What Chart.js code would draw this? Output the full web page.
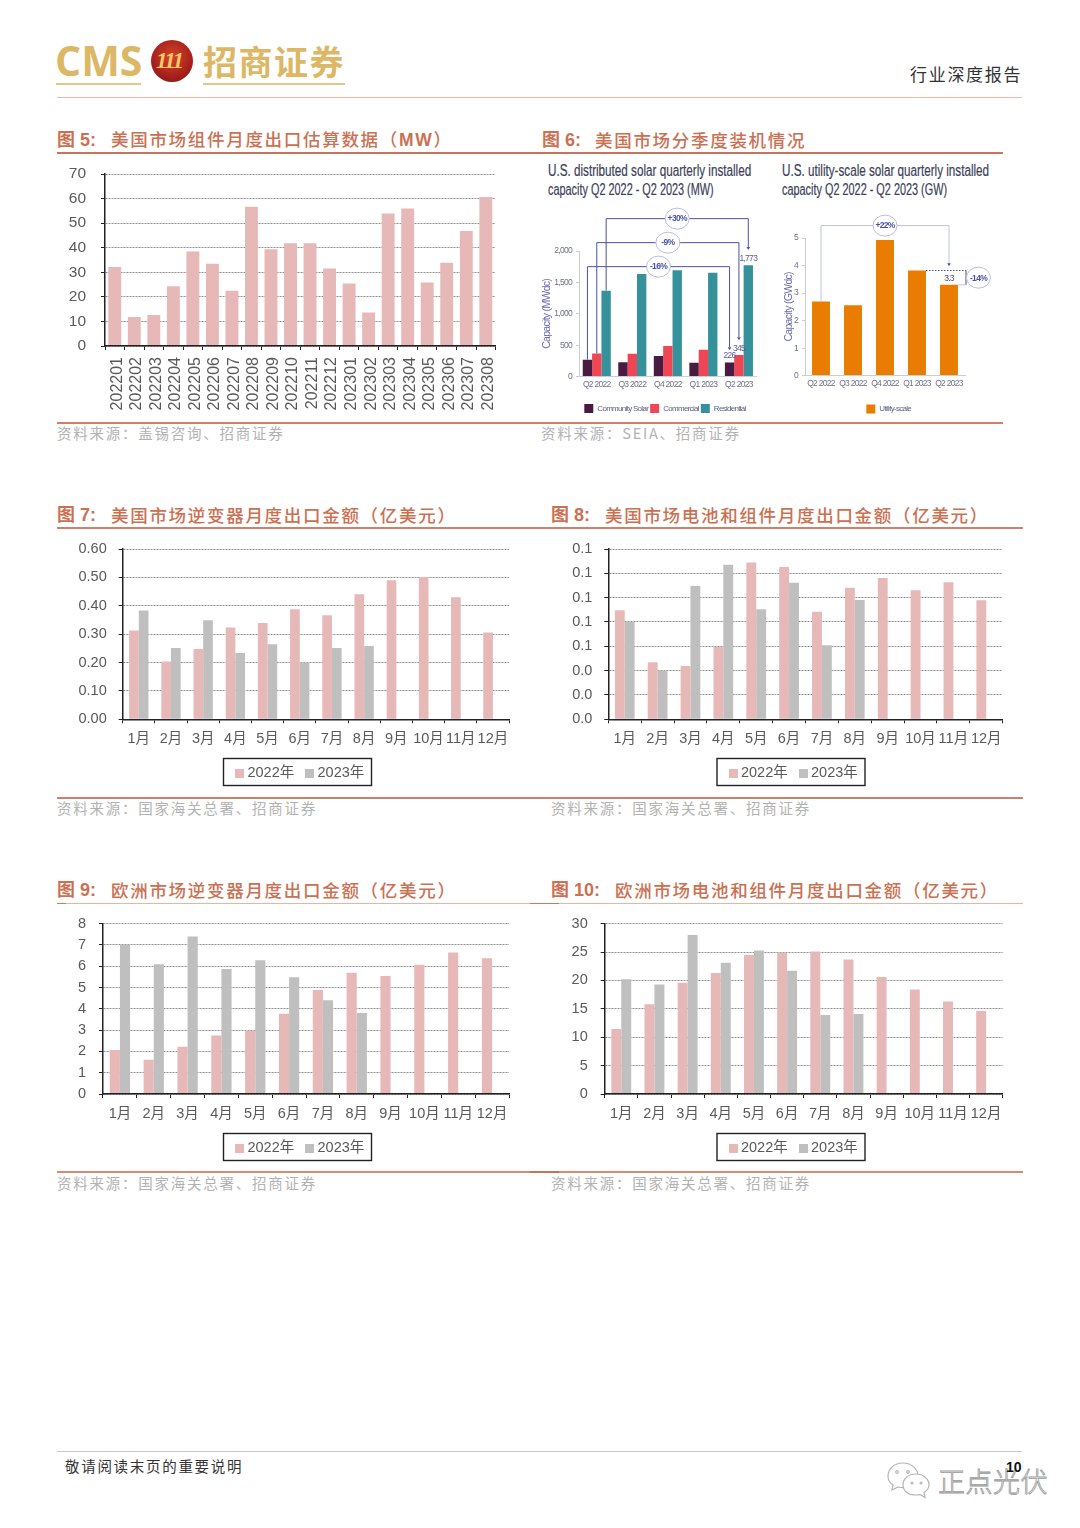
<!DOCTYPE html>
<html lang="zh-CN">
<head>
<meta charset="utf-8">
<script src="https://cdn.jsdelivr.net/npm/chart.js@4"></script>
<style>
html,body{margin:0;padding:0;background:#fff;}
#page{position:relative;width:1080px;height:1528px;overflow:hidden;background:#fff;font-family:"Liberation Sans","Noto Sans CJK SC",sans-serif;}
.t{position:absolute;white-space:nowrap;transform:translateY(-50%);line-height:1;}
.r{position:absolute;}
.fig{color:#cc7052;font-size:17.5px;font-weight:500;letter-spacing:1.7px;font-family:"Noto Sans CJK SC",sans-serif;}
.num{color:#cc7052;font-size:18px;font-weight:700;font-family:"Liberation Sans","Noto Sans CJK SC",sans-serif;}
.src{color:#b2b2b2;font-size:14.5px;letter-spacing:1.75px;font-family:"Noto Sans CJK SC",sans-serif;}
.en{color:#3c4158;font-size:16px;font-family:"Liberation Sans",sans-serif;transform-origin:left center;-webkit-text-stroke:.2px #3c4158;}
canvas{position:absolute;display:block;}
</style>
</head>
<body>
<div id="page">
  <!-- header -->
  <div class="t" style="left:55px;top:60px;font:700 41px 'Open Sans',sans-serif;color:#dcb866;">CMS</div>
  <div class="r" style="left:56px;top:83px;width:85px;height:2px;background:#e3c783;"></div>
  <div class="r" style="left:151px;top:40px;width:42px;height:42px;border-radius:50%;background:radial-gradient(circle at 50% 40%,#d2452a 0,#a8201c 60%,#6d1512 100%);"></div>
  <div class="t" style="left:156px;top:61px;font:italic 700 23px 'Liberation Serif',serif;color:#f3c867;letter-spacing:-2px;">111</div>
  <div class="t" style="left:203px;top:60px;font:700 34px 'Noto Sans CJK SC',sans-serif;color:#dcb866;letter-spacing:1.5px;">招商证券</div>
  <div class="r" style="left:203px;top:83px;width:142px;height:2px;background:#e3c783;"></div>
  <div class="t" style="left:910px;top:72.500px;font:400 17px 'Noto Sans CJK SC',sans-serif;color:#333;letter-spacing:1.7px;">行业深度报告</div>
  <div class="r" style="left:57px;top:96.5px;width:965px;height:1px;background:#f0b9a8;"></div>

  <!-- figure titles -->
  <div class="t num" style="left:57px;top:140px;">图 5:</div>
  <div class="t fig" style="left:111px;top:140px;">美国市场组件月度出口估算数据（<b style="font-family:'Liberation Sans'">MW</b>）</div>
  <div class="t num" style="left:542px;top:140px;">图 6:</div>
  <div class="t fig" style="left:595px;top:140px;">美国市场分季度装机情况</div>
  <div class="t num" style="left:57px;top:515px;">图 7:</div>
  <div class="t fig" style="left:111px;top:515px;">美国市场逆变器月度出口金额（亿美元）</div>
  <div class="t num" style="left:551px;top:515px;">图 8:</div>
  <div class="t fig" style="left:605px;top:515px;">美国市场电池和组件月度出口金额（亿美元）</div>
  <div class="t num" style="left:57px;top:890px;">图 9:</div>
  <div class="t fig" style="left:111px;top:890px;">欧洲市场逆变器月度出口金额（亿美元）</div>
  <div class="t num" style="left:551px;top:890px;">图 10:</div>
  <div class="t fig" style="left:615px;top:890px;">欧洲市场电池和组件月度出口金额（亿美元）</div>

  <!-- rules -->
  <div class="r" style="left:57px;top:152px;width:946px;height:2px;background:#c9745a;"></div>
  <div class="r" style="left:57px;top:422px;width:946px;height:1.5px;background:#cf8068;"></div>
  <div class="r" style="left:57px;top:527px;width:966px;height:1.5px;background:#cf8068;"></div>
  <div class="r" style="left:57px;top:797px;width:966px;height:1.5px;background:#cf8068;"></div>
  <div class="r" style="left:57px;top:902.5px;width:966px;height:1.5px;background:#e9b4a2;"></div>
  <div class="r" style="left:57px;top:902.5px;width:9px;height:1.5px;background:#cf7a60;"></div>
  <div class="r" style="left:530px;top:902.5px;width:29px;height:1.5px;background:#cf7a60;"></div>
  <div class="r" style="left:57px;top:1171px;width:966px;height:1.5px;background:#d68a72;"></div>
  <div class="r" style="left:530px;top:1171px;width:29px;height:1.5px;background:#c9745a;"></div>

  <!-- sources -->
  <div class="t src" style="left:57px;top:433px;">资料来源：盖锡咨询、招商证券</div>
  <div class="t src" style="left:541px;top:433px;">资料来源：SEIA、招商证券</div>
  <div class="t src" style="left:57px;top:808px;">资料来源：国家海关总署、招商证券</div>
  <div class="t src" style="left:551px;top:808px;">资料来源：国家海关总署、招商证券</div>
  <div class="t src" style="left:57px;top:1183px;">资料来源：国家海关总署、招商证券</div>
  <div class="t src" style="left:551px;top:1183px;">资料来源：国家海关总署、招商证券</div>

  <!-- figure 6 sub titles -->
  <div class="t en" style="left:548px;top:171px;transform:translateY(-50%) scaleX(.73);">U.S. distributed solar quarterly installed</div>
  <div class="t en" style="left:548px;top:190px;transform:translateY(-50%) scaleX(.68);">capacity Q2 2022 - Q2 2023 (MW)</div>
  <div class="t en" style="left:782px;top:171px;transform:translateY(-50%) scaleX(.73);">U.S. utility-scale solar quarterly installed</div>
  <div class="t en" style="left:782px;top:190px;transform:translateY(-50%) scaleX(.68);">capacity Q2 2022 - Q2 2023 (GW)</div>

  <!-- footer -->
  <div class="r" style="left:57px;top:1451px;width:965px;height:1px;background:#c8c8c8;"></div>
  <div class="t" style="left:65px;top:1465px;font:400 14.5px 'Noto Sans CJK SC',sans-serif;color:#333;letter-spacing:1.7px;">敬请阅读末页的重要说明</div>
  <svg class="r" style="left:886px;top:1460px;" width="48" height="40" viewBox="0 0 48 40" fill="#fff" stroke="#b5b5b5" stroke-width="1.2">
    <path d="M17 3C8 3 2 9 2 16c0 4 2 7 5 9l-1 5 6-3c2 .6 3 .7 5 .7 9 0 15-6 15-12S26 3 17 3z"/>
    <path d="M30 14c-8 0-13 5-13 11s5 10 13 10c1.700 0 3-.2 4-.5l5 3-1-5c3-2 5-4.500 5-7.500 0-6-6-11-13-11z"/>
    <circle cx="11" cy="12" r="1.300"/><circle cx="22" cy="12" r="1.300"/><circle cx="26" cy="23" r="1"/><circle cx="35" cy="23" r="1"/>
  </svg>
  <div class="t" style="left:938px;top:1480px;font:300 27px 'Noto Sans CJK SC',sans-serif;color:#fff;-webkit-text-stroke:.8px #999;letter-spacing:.5px;">正点光伏</div>
  <div class="t" style="left:1006px;top:1467px;font:700 14px 'Liberation Sans',sans-serif;color:#111;">10</div>
</div>

<script>
/* ---------- data ---------- */
const months = ['1月','2月','3月','4月','5月','6月','7月','8月','9月','10月','11月','12月'];
const yearNames = ['2022年','2023年'];

const fig5Labels = ['202201','202202','202203','202204','202205','202206','202207','202208','202209','202210','202211','202212','202301','202302','202303','202304','202305','202306','202307','202308'];
const fig5Values = [32.2,11.8,12.6,24.3,38.5,33.5,22.5,56.7,39.4,41.8,41.8,31.5,25.4,13.6,53.9,56.0,25.8,33.9,46.8,60.6];

const quarters = ['Q2 2022','Q3 2022','Q4 2022','Q1 2023','Q2 2023'];
const community = [270,228,329,223,226];
const commercial = [371,366,488,430,345];
const residential = [1369,1634,1692,1655,1773];
const utility = [2.69,2.56,4.93,3.82,3.3];

const fig7y22 = [0.313,0.204,0.248,0.323,0.339,0.388,0.367,0.441,0.490,0.501,0.430,0.306];
const fig7y23 = [0.383,0.251,0.349,0.234,0.264,0.200,0.251,0.258];
const fig8y22 = [0.0896,0.0468,0.0438,0.0595,0.1288,0.1252,0.0885,0.1082,0.1162,0.1060,0.1126,0.0978];
const fig8y23 = [0.0800,0.0400,0.1096,0.1271,0.0904,0.1123,0.0608,0.0981];
const fig9y22 = [2.07,1.61,2.22,2.75,2.97,3.77,4.88,5.70,5.54,6.07,6.65,6.38];
const fig9y23 = [7.01,6.10,7.40,5.87,6.28,5.49,4.40,3.80];
const fig10y22 = [11.45,15.8,19.6,21.3,24.5,24.9,25.1,23.7,20.6,18.4,16.3,14.6];
const fig10y23 = [20.2,19.3,28.0,23.1,25.3,21.7,13.9,14.1];

/* bracket levels read in axis units */
const distBrackets = [
  {series:2, level:2515, arrowTo:2016, label:'+30%'},
  {series:1, level:2133, arrowTo:580,  label:'-9%'},
  {series:0, level:1751, arrowTo:420,  label:'-16%'}
];
const distNotes = [{series:0,text:'226'},{series:1,text:'345'},{series:2,text:'1,773'}];
const utilBracket = {level:5.45, arrowTo:3.97, label:'+22%'};
const utilNote = {text:'3.3', change:'-14%'};

/* ---------- styles ---------- */
const PINK='#e6b8b7', GREY='#bfbfbf', TXT='#595959';
const SANS='"Liberation Sans","Noto Sans CJK SC",sans-serif';
const page=document.getElementById('page');

function swatch(col,s){
  const c=document.createElement('canvas');c.width=s;c.height=s;
  const k=c.getContext('2d');k.fillStyle=col;k.fillRect(0,0,s,s);return c;
}

function makeChart(g, cfg){
  const c=document.createElement('canvas');
  c.width=g.w; c.height=g.h;
  c.style.left=g.left+'px'; c.style.top=g.top+'px';
  page.appendChild(c);
  let yW=g.l-g.left, xAdj=0;
  const applySpacing=ch=>{ if(g.spacing!==undefined) ch.ctx.letterSpacing=g.spacing+'px'; };
  const plugins=[{
    id:'place',
    beforeLayout:applySpacing,
    beforeDraw:applySpacing,
    afterLayout(ch){
      const L=ch.legend;
      if(!g.legend||!L) return;
      const dx=(g.legend.cx+(g.legend.lx||0)-g.left)-(L.left+L.right)/2;
      const dy=(g.legend.cy+(g.legend.ly||0)-g.top)-(L.top+L.bottom)/2;
      L.left+=dx;L.right+=dx;L.top+=dy;L.bottom+=dy;
    },
    afterDraw(ch){
      if(!g.legend||!g.legend.bw) return;
      const x=g.legend.cx-g.left-g.legend.bw/2, y=g.legend.cy-g.top-g.legend.bh/2;
      const k=ch.ctx;k.save();k.strokeStyle='#222';k.lineWidth=1.4;
      k.strokeRect(x,y,g.legend.bw,g.legend.bh);k.restore();
    }
  }].concat(cfg.plugins||[]);
  const st=cfg.style||{};
  const ch=new Chart(c,{
    type:'bar',
    data:{labels:cfg.labels,datasets:cfg.datasets},
    plugins,
    options:{
      responsive:false,animation:false,
      layout:{autoPadding:false,padding:{top:g.t-g.top,right:g.left+g.w-g.r,left:0,bottom:0}},
      plugins:{
        tooltip:{enabled:false},
        legend:cfg.legend?{display:true,position:'bottom',labels:cfg.legend}:{display:false}
      },
      scales:{
        x:{
          grid:{drawOnChartArea:false,drawTicks:true,tickLength:st.xTick??4,color:st.axis||'#222',tickColor:st.axis||'#222'},
          border:{color:st.axis||'#222',width:st.axisW||1.5,z:1},
          ticks:{color:st.color||TXT,font:{family:SANS,size:st.xSize||14.5},padding:st.xPad??7,labelOffset:st.xOffset||0,autoSkip:false,maxRotation:st.rot||0,minRotation:st.rot||0},
          afterFit(s){s.height=g.h-(s.chart.legend?s.chart.legend.height:0)-(g.b-g.top)+xAdj;}
        },
        y:{
          min:cfg.min,max:cfg.max,
          grid:st.noGrid?{drawOnChartArea:false,tickLength:3,color:st.axis,tickColor:st.axis}:{color:'#8f8f8f',lineWidth:1,tickLength:4,tickColor:'#222'},
          border:st.noGrid?{color:st.axis,width:1,z:1}:{color:'#222',width:1.5,dash:[2,1],z:1},
          title:st.yTitle?{display:true,text:st.yTitle,color:'#6a6eb0',font:{family:SANS,size:10.5},padding:{top:st.yTitlePad||0,bottom:0}}:{display:false},
          ticks:{stepSize:cfg.step,color:st.color||TXT,font:{family:SANS,size:st.ySize||14.5},padding:st.yPad??12,callback:cfg.fmt,autoSkip:false},
          afterFit(s){s.width=yW;}
        }
      }
    }
  });
  /* settle the plot rectangle on the wanted pixels */
  for(let i=0;i<5;i++){
    const y=ch.scales.y,x=ch.scales.x,pad=ch.options.layout.padding;
    const dt=y.getPixelForValue(cfg.max)-(g.t-g.top), db=y.getPixelForValue(cfg.min)-(g.b-g.top), dl=x.left-(g.l-g.left), dr=x.right-(g.r-g.left);
    if(Math.abs(dt)+Math.abs(db)+Math.abs(dl)+Math.abs(dr)<0.2) break;
    ch.options.layout.padding={top:pad.top-dt,right:pad.right+dr,left:0,bottom:0};
    xAdj+=db; yW-=dl;
    ch.update();
  }
  return ch;
}

function yearSets(a,b){
  return [
    {label:yearNames[0],data:a,backgroundColor:PINK,categoryPercentage:0.6,barPercentage:1},
    {label:yearNames[1],data:b,backgroundColor:GREY,categoryPercentage:0.6,barPercentage:1}
  ];
}
const yearSwatches=[swatch(PINK,9),swatch(GREY,9)];
const yearLegend={
  usePointStyle:true,pointStyleWidth:1,boxWidth:9,boxHeight:9,padding:15,color:TXT,font:{family:SANS,size:14.5},
  generateLabels(ch){
    return Chart.defaults.plugins.legend.labels.generateLabels(ch).map((it,i)=>Object.assign(it,{pointStyle:yearSwatches[i]}));
  }
};

/* ---------- figure 5 ---------- */
makeChart({left:56,top:144,w:456,h:276,l:105,r:500.5,t:174,b:346},{
  labels:fig5Labels,
  datasets:[{label:'MW',data:fig5Values,backgroundColor:PINK,categoryPercentage:0.66,barPercentage:1}],
  min:0,max:70,step:10,fmt:v=>String(v),
  style:{xSize:16,ySize:15.5,rot:90,xPad:7,yPad:15,xOffset:2.5}
});

/* ---------- figure 6 helpers ---------- */
function oval(k,x,y,text,col){
  k.save();
  k.beginPath();k.ellipse(x,y,12,10.5,0,0,Math.PI*2);
  k.fillStyle='#fff';k.fill();k.strokeStyle='#b9bde0';k.lineWidth=1;k.stroke();
  k.fillStyle=col;k.font='700 8.5px '+SANS;k.textAlign='center';k.textBaseline='middle';
  k.fillText(text,x,y+.5);k.restore();
}
function arrow(k,x,y,col){
  k.save();k.fillStyle=col;k.beginPath();k.moveTo(x-1.8,y-3);k.lineTo(x+1.8,y-3);k.lineTo(x,y);k.closePath();k.fill();k.restore();
}
const NAVY='#4a52a3';
const distPlugin={id:'distNotes',afterDatasetsDraw(ch){
  const k=ch.ctx,y=ch.scales.y;
  k.save();
  k.strokeStyle=NAVY;k.lineWidth=1;
  distBrackets.forEach(b=>{
    const bars=ch.getDatasetMeta(b.series).data;
    const a=bars[0],e=bars[bars.length-1],ly=y.getPixelForValue(b.level),ey=y.getPixelForValue(b.arrowTo);
    k.beginPath();k.moveTo(a.x,a.y);k.lineTo(a.x,ly);k.lineTo(e.x,ly);k.lineTo(e.x,ey-3);k.stroke();
    arrow(k,e.x,ey,NAVY);
  });
  distBrackets.forEach(b=>{
    const bars=ch.getDatasetMeta(b.series).data;
    oval(k,(bars[0].x+bars[bars.length-1].x)/2,y.getPixelForValue(b.level),b.label,NAVY);
  });
  k.fillStyle='#5b5f8f';k.font='8.5px '+SANS;k.textAlign='center';k.textBaseline='bottom';
  distNotes.forEach(n=>{
    const bars=ch.getDatasetMeta(n.series).data,e=bars[bars.length-1];
    k.fillText(n.text,e.x,e.y-2.5);
  });
  k.restore();
}};
const utilPlugin={id:'utilNotes',afterDatasetsDraw(ch){
  const k=ch.ctx,y=ch.scales.y,bars=ch.getDatasetMeta(0).data;
  const a=bars[0],e=bars[4],q=bars[3],ly=y.getPixelForValue(utilBracket.level),ey=y.getPixelForValue(utilBracket.arrowTo);
  const LINE='#bcc2dd',sideX=ch.chartArea.right+1;
  k.save();
  k.strokeStyle=LINE;k.lineWidth=1;
  k.beginPath();k.moveTo(a.x,a.y);k.lineTo(a.x,ly);k.lineTo(e.x,ly);k.lineTo(e.x,ey-3);k.stroke();
  arrow(k,e.x,ey,NAVY);
  k.strokeStyle='#444a7a';
  k.setLineDash([1.5,1.5]);k.beginPath();k.moveTo(q.x+q.width/2,q.y);k.lineTo(sideX,q.y);k.stroke();k.setLineDash([]);
  k.beginPath();k.moveTo(sideX,q.y);k.lineTo(sideX,e.y);k.stroke();
  k.beginPath();k.moveTo(e.x+e.width/2,e.y);k.lineTo(sideX,e.y);k.strokeStyle=LINE;k.stroke();
  oval(k,(a.x+e.x)/2,ly,utilBracket.label,NAVY);
  oval(k,sideX+12.5,(q.y+e.y)/2,utilNote.change,NAVY);
  k.fillStyle='#444a6a';k.font='8.5px '+SANS;k.textAlign='center';k.textBaseline='bottom';
  k.fillText(utilNote.text,e.x,e.y-2);
  k.restore();
}};
const smallStyle={color:'#6d6f8a',xSize:8.5,ySize:8.5,axis:'#c8cce0',axisW:1,xTick:0,xPad:3,yPad:4,noGrid:true};
const smallLegend={boxWidth:9,boxHeight:9,padding:2,color:'#5d5f7f',font:{family:SANS,size:8}};

/* ---------- figure 6 left ---------- */
makeChart({left:535,top:200,w:235,h:220,l:579,r:756.7,t:251,b:376.7,spacing:-0.7,legend:{cx:665,cy:407,ly:5.5}},{
  labels:quarters,
  datasets:[
    {label:'Community Solar',data:community,backgroundColor:'#4a1b40',categoryPercentage:0.79,barPercentage:1},
    {label:'Commercial',data:commercial,backgroundColor:'#ef4655',categoryPercentage:0.79,barPercentage:1},
    {label:'Residential',data:residential,backgroundColor:'#35919a',categoryPercentage:0.79,barPercentage:1}
  ],
  min:0,max:2000,step:500,fmt:v=>v.toLocaleString('en-US'),
  style:Object.assign({},smallStyle,{yTitle:'Capacity (MWdc)',yTitlePad:6}),
  legend:smallLegend,plugins:[distPlugin]
});

/* ---------- figure 6 right ---------- */
makeChart({left:775,top:200,w:225,h:220,l:805,r:965,t:238,b:375.7,spacing:-0.7,legend:{cx:888.7,cy:408,ly:5}},{
  labels:quarters,
  datasets:[{label:'Utility-scale',data:utility,backgroundColor:'#ea7d00',categoryPercentage:0.56,barPercentage:1}],
  min:0,max:5,step:1,fmt:v=>String(v),
  style:Object.assign({},smallStyle,{yTitle:'Capacity (GWdc)',yTitlePad:8}),
  legend:smallLegend,plugins:[utilPlugin]
});

/* ---------- figures 7 to 10 ---------- */
const box7={bw:148,bh:27,lx:4.25,ly:-1.5};
makeChart({left:71,top:519,w:453,h:271,l:122.7,r:509,t:549,b:719.3,legend:Object.assign({cx:297.5,cy:772},box7)},{
  labels:months,datasets:yearSets(fig7y22,fig7y23),min:0,max:0.6,step:0.1,fmt:v=>v.toFixed(2),legend:yearLegend
});
makeChart({left:566,top:519,w:450,h:271,l:608.3,r:1002.7,t:549,b:719.3,legend:Object.assign({cx:791,cy:772},box7)},{
  labels:months,datasets:yearSets(fig8y22,fig8y23),min:0,max:0.14,step:0.02,fmt:v=>v.toFixed(1),legend:yearLegend
});
makeChart({left:71,top:894,w:453,h:271,l:103,r:509,t:923.7,b:1094,legend:Object.assign({cx:297.5,cy:1147},box7)},{
  labels:months,datasets:yearSets(fig9y22,fig9y23),min:0,max:8,step:1,fmt:v=>String(v),legend:yearLegend,style:{yPad:13}
});
makeChart({left:566,top:894,w:450,h:271,l:604.7,r:1002.7,t:923.7,b:1094,legend:Object.assign({cx:791,cy:1147},box7)},{
  labels:months,datasets:yearSets(fig10y22,fig10y23),min:0,max:30,step:5,fmt:v=>String(v),legend:yearLegend,style:{yPad:13}
});
</script>
</body>
</html>
